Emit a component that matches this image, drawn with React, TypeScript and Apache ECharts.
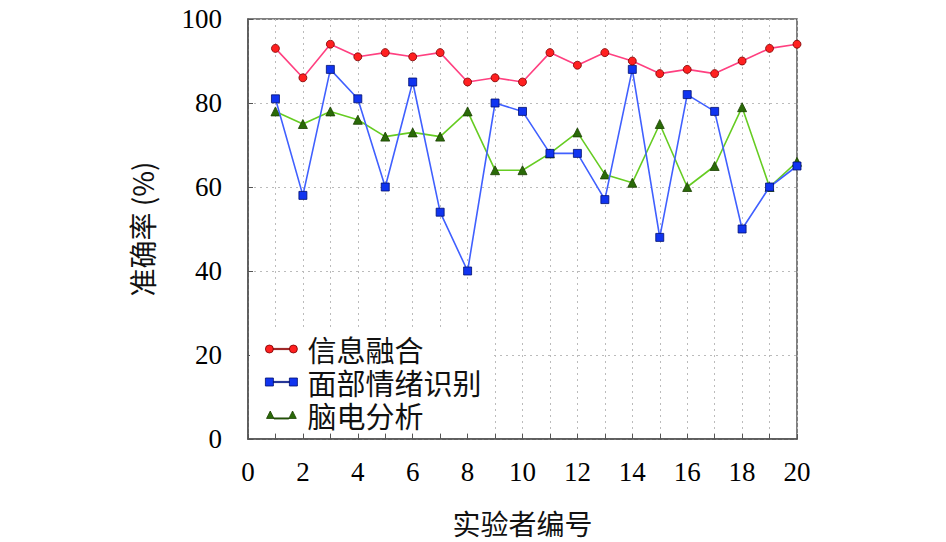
import React, { useEffect, useRef } from "react";
import * as echarts from "echarts";

const participants = [1, 2, 3, 4, 5, 6, 7, 8, 9, 10, 11, 12, 13, 14, 15, 16, 17, 18, 19, 20];
const fusion = [93, 86, 94, 91, 92, 91, 92, 85, 86, 85, 92, 89, 92, 90, 87, 88, 87, 90, 93, 94];
const facial = [81, 58, 88, 81, 60, 85, 54, 40, 80, 78, 68, 68, 57, 88, 48, 82, 78, 50, 60, 65];
const eeg = [78, 75, 78, 76, 72, 73, 72, 78, 64, 64, 68, 73, 63, 61, 75, 60, 65, 79, 60, 66];
const seriesNames = ["信息融合", "面部情绪识别", "脑电分析"];

const circleIcon =
  "path://M0,4a4,4 0 1,0 8,0a4,4 0 1,0 -8,0ZM8,3.4L24,3.4L24,4.6L8,4.6ZM24,4a4,4 0 1,0 8,0a4,4 0 1,0 -8,0Z";
const squareIcon = "path://M0,0L8,0L8,8L0,8ZM8,3.4L24,3.4L24,4.6L8,4.6ZM24,0L32,0L32,8L24,8Z";
const triIcon = "path://M0,8L4,0L8,8ZM8,7.4L24,7.4L24,8.6L8,8.6ZM24,8L28,0L32,8Z";

export default function App() {
  const ref = useRef<HTMLDivElement>(null);
  useEffect(() => {
    if (!ref.current) return;
    const chart = echarts.init(ref.current, null, { renderer: "svg" });
    const toPairs = (arr: number[]) => participants.map((p, i) => [p, arr[i]]);
    const serif = "'Liberation Serif', 'Times New Roman', serif";
    const cjk = "'Noto Sans CJK SC', 'Liberation Serif', serif";
    chart.setOption({
      animation: false,
      backgroundColor: "#ffffff",
      grid: {
        left: 248,
        top: 19,
        right: 149,
        bottom: 102,
        show: true,
        borderColor: "#555",
        borderWidth: 1.5,
        backgroundColor: "transparent",
      },
      legend: {
        orient: "vertical",
        left: 250,
        top: 331,
        padding: [3, 10, 3, 15],
        backgroundColor: "#ffffff",
        itemWidth: 32,
        itemHeight: 8,
        itemGap: 3,
        textStyle: {
          fontFamily: cjk,
          fontSize: 29,
          color: "#111",
          lineHeight: 30,
          padding: [0, 0, 0, 5],
        },
        data: [
          { name: seriesNames[0], icon: circleIcon, itemStyle: { color: "#ff2020", borderColor: "#7a0000", borderWidth: 0.8 } },
          { name: seriesNames[1], icon: squareIcon, itemStyle: { color: "#1034f0", borderColor: "#001070", borderWidth: 0.8 } },
          { name: seriesNames[2], icon: triIcon, itemStyle: { color: "#2a6a08", borderColor: "#1a4000", borderWidth: 0.8 } },
        ],
      },
      xAxis: {
        type: "value",
        min: 0,
        max: 20,
        interval: 1,
        name: "实验者编号",
        nameLocation: "middle",
        nameGap: 70,
        nameTextStyle: { fontFamily: cjk, fontSize: 28, color: "#111" },
        axisLine: { show: true, lineStyle: { color: "#555", width: 1.5 } },
        axisTick: { show: true, inside: true, length: 5, lineStyle: { color: "#555" } },
        axisLabel: {
          fontFamily: serif,
          fontSize: 27,
          color: "#000",
          margin: 20,
          formatter: (v: number) => (v % 2 === 0 ? String(v) : ""),
        },
        splitLine: { show: true, lineStyle: { color: "#bbb", type: [2, 4], width: 1 } },
      },
      yAxis: {
        type: "value",
        min: 0,
        max: 100,
        interval: 20,
        name: "准确率 (%)",
        nameLocation: "middle",
        nameGap: 92,
        nameRotate: 90,
        nameTextStyle: { fontFamily: cjk, fontSize: 28, color: "#111" },
        axisLine: { show: true, lineStyle: { color: "#555", width: 1.5 } },
        axisTick: { show: true, inside: true, length: 5, lineStyle: { color: "#555" } },
        axisLabel: { fontFamily: serif, fontSize: 27, color: "#000", margin: 26 },
        splitLine: { show: true, lineStyle: { color: "#bbb", type: [2, 4], width: 1 } },
      },
      series: [
        {
          name: seriesNames[0],
          type: "line",
          data: toPairs(fusion),
          symbol: "circle",
          symbolSize: 8,
          lineStyle: { color: "#ff4080", width: 1.6 },
          itemStyle: { color: "#ff2020", borderColor: "#7a0000", borderWidth: 0.8 },
          z: 4,
        },
        {
          name: seriesNames[1],
          type: "line",
          data: toPairs(facial),
          symbol: "rect",
          symbolSize: 8,
          lineStyle: { color: "#4060ff", width: 1.6 },
          itemStyle: { color: "#1034f0", borderColor: "#001070", borderWidth: 0.8 },
          z: 3,
        },
        {
          name: seriesNames[2],
          type: "line",
          data: toPairs(eeg),
          symbol: "triangle",
          symbolSize: 9,
          lineStyle: { color: "#66cc22", width: 1.6 },
          itemStyle: { color: "#2a6a08", borderColor: "#1a4000", borderWidth: 0.8 },
          z: 2,
        },
      ],
    });
    return () => chart.dispose();
  }, []);
  return <div ref={ref} style={{ width: 946, height: 542, position: "absolute", left: 0, top: 0 }} />;
}
